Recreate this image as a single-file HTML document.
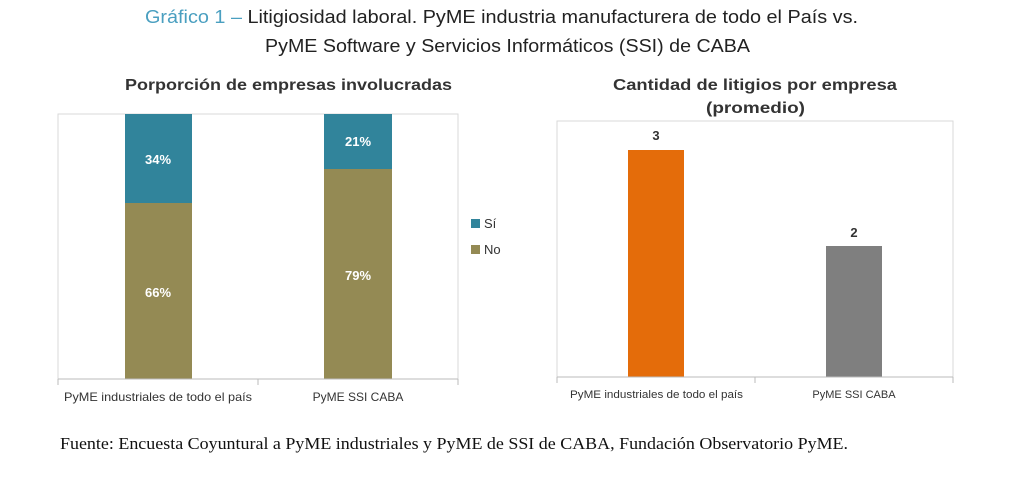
<!DOCTYPE html>
<html><head><meta charset="utf-8"><style>
body{margin:0;background:#fff;width:1024px;height:481px;overflow:hidden}
</style></head><body>
<svg width="1024" height="481" xmlns="http://www.w3.org/2000/svg" font-family="'Liberation Sans', sans-serif">
<text x="145" y="23" font-size="18" fill="#222" textLength="713" lengthAdjust="spacingAndGlyphs"><tspan fill="#4a9fc0">Gráfico 1 –</tspan> Litigiosidad laboral. PyME industria manufacturera de todo el País vs.</text>
<text x="265" y="52" font-size="18" fill="#222" textLength="485" lengthAdjust="spacingAndGlyphs">PyME Software y Servicios Informáticos (SSI) de CABA</text>

<text x="125" y="90" font-size="16" font-weight="bold" fill="#333" textLength="327" lengthAdjust="spacingAndGlyphs">Porporción de empresas involucradas</text>
<rect x="58" y="114" width="400" height="265" fill="none" stroke="#d9d9d9"/>
<rect x="125" y="114" width="67" height="89" fill="#31849b"/>
<rect x="125" y="203" width="67" height="176" fill="#948a54"/>
<rect x="324" y="114" width="68" height="55" fill="#31849b"/>
<rect x="324" y="169" width="68" height="210" fill="#948a54"/>
<g fill="#fff" font-size="13" font-weight="bold" text-anchor="middle">
<text x="158" y="164">34%</text><text x="158" y="297">66%</text>
<text x="358" y="146">21%</text><text x="358" y="280">79%</text></g>
<line x1="58" y1="379" x2="458" y2="379" stroke="#bbb"/>
<line x1="58" y1="379" x2="58" y2="385" stroke="#bbb"/><line x1="258" y1="379" x2="258" y2="385" stroke="#bbb"/><line x1="458" y1="379" x2="458" y2="385" stroke="#bbb"/>
<text x="64" y="401" font-size="12" fill="#333" textLength="188" lengthAdjust="spacingAndGlyphs">PyME industriales de todo el país</text>
<text x="358" y="401" text-anchor="middle" font-size="12" fill="#333">PyME SSI CABA</text>
<rect x="471" y="219" width="9" height="9" fill="#31849b"/><text x="484" y="228" font-size="13" fill="#333">Sí</text>
<rect x="471" y="245" width="9" height="9" fill="#948a54"/><text x="484" y="254" font-size="13" fill="#333">No</text>

<text x="613" y="90" font-size="16" font-weight="bold" fill="#333" textLength="284" lengthAdjust="spacingAndGlyphs">Cantidad de litigios por empresa</text>
<text x="706" y="113" font-size="16" font-weight="bold" fill="#333" textLength="99" lengthAdjust="spacingAndGlyphs">(promedio)</text>
<rect x="557" y="121" width="396" height="256" fill="none" stroke="#d9d9d9"/>
<rect x="628" y="150" width="56" height="227" fill="#e46c0a"/>
<rect x="826" y="246" width="56" height="131" fill="#7f7f7f"/>
<text x="656" y="140" text-anchor="middle" font-size="13" font-weight="bold" fill="#333">3</text>
<text x="854" y="237" text-anchor="middle" font-size="13" font-weight="bold" fill="#333">2</text>
<line x1="557" y1="377" x2="953" y2="377" stroke="#bbb"/>
<line x1="557" y1="377" x2="557" y2="383" stroke="#bbb"/><line x1="755" y1="377" x2="755" y2="383" stroke="#bbb"/><line x1="953" y1="377" x2="953" y2="383" stroke="#bbb"/>
<text x="570" y="398" font-size="11" fill="#333" textLength="173" lengthAdjust="spacingAndGlyphs">PyME industriales de todo el país</text>
<text x="854" y="398" text-anchor="middle" font-size="11" fill="#333">PyME SSI CABA</text>

<text x="60" y="449" font-family="'Liberation Serif', serif" font-size="17" fill="#111" textLength="788" lengthAdjust="spacingAndGlyphs">Fuente: Encuesta Coyuntural a PyME industriales y PyME de SSI de CABA, Fundación Observatorio PyME.</text>
</svg>
</body></html>
